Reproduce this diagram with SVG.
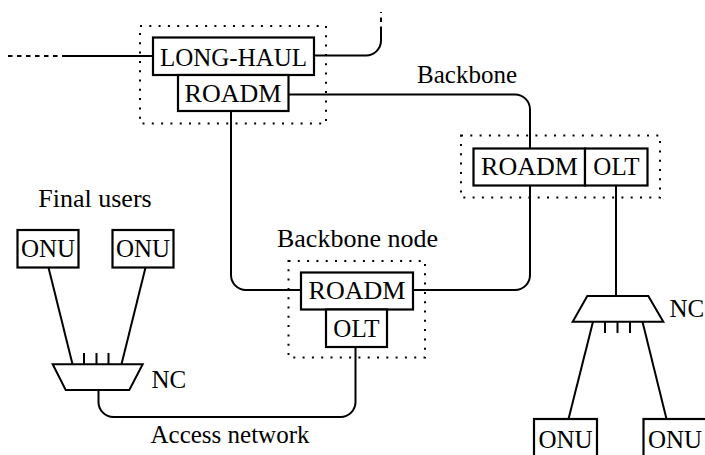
<svg xmlns="http://www.w3.org/2000/svg" width="705" height="455" viewBox="0 0 705 455">
<style>
.box{fill:#fff;stroke:#000;stroke-width:2.2}
.grp{fill:none;stroke:#000;stroke-width:2;stroke-dasharray:2 7.3}
.ln{fill:none;stroke:#000;stroke-width:2}
.dash{fill:none;stroke:#000;stroke-width:2;stroke-dasharray:4.5 4.5}
.nc{fill:#fff;stroke:#000;stroke-width:2;stroke-linejoin:miter}
text{font-family:'Liberation Serif',serif;font-size:25px;fill:#000}
.c{text-anchor:middle}
.w{font-size:26px}
</style>
<rect width="705" height="455" fill="#fff"/>
<g id="groups">
<rect class="grp" x="140" y="26" width="186" height="97.5"/>
<rect class="grp" x="461" y="135.5" width="199" height="62"/>
<rect class="grp" x="288.5" y="261" width="136.5" height="96.5"/>
</g>
<g id="connectors">
<path class="dash" d="M8,56 H65"/>
<path class="ln" d="M65,56 H153"/>
<path class="ln" d="M314,55.5 H366 A15,15 0 0 0 381,40.5 V31"/>
<path class="dash" d="M381,31 V12"/>
<path class="ln" d="M288,94.5 H515 A15,15 0 0 1 530,109.5 V148"/>
<path class="ln" d="M231,111 V275 A15,15 0 0 0 246,290 H301"/>
<path class="ln" d="M413,290 H515 A15,15 0 0 0 530,275 V185"/>
<path class="ln" d="M616,185 V296"/>
<path class="ln" d="M355.5,347 V402 A15,15 0 0 1 340.5,417 H113.5 A15,15 0 0 1 98.5,402 V390"/>
<path class="ln" d="M48.5,267.5 L72.5,364.3"/>
<path class="ln" d="M145.5,267.5 L121.5,364.3"/>
<path class="ln" d="M593,321.7 L568.5,419"/>
<path class="ln" d="M642.5,321.7 L666.5,419"/>
</g>
<g id="longhaul">
<rect class="box" x="153" y="37.5" width="161" height="37.5"/>
<text class="c" x="233.5" y="65.5">LONG-HAUL</text>
</g>
<g id="roadm-top">
<rect class="box" x="178" y="75" width="110.5" height="36"/>
<text class="c w" x="233" y="101.5">ROADM</text>
</g>
<g id="roadm-right">
<rect class="box" x="473.5" y="148.5" width="111.5" height="37"/>
<text class="c w" x="529.5" y="175">ROADM</text>
</g>
<g id="olt-right">
<rect class="box" x="585" y="148.5" width="62.5" height="37"/>
<text class="c" x="616.5" y="175">OLT</text>
</g>
<g id="roadm-mid">
<rect class="box" x="301" y="272.5" width="112" height="37"/>
<text class="c w" x="357" y="299">ROADM</text>
</g>
<g id="olt-mid">
<rect class="box" x="326" y="309.5" width="61" height="37.5"/>
<text class="c" x="356.5" y="336.5">OLT</text>
</g>
<g id="onu-1">
<rect class="box" x="17.5" y="230" width="61" height="37.5"/>
<text class="c" x="48" y="257">ONU</text>
</g>
<g id="onu-2">
<rect class="box" x="112.5" y="230" width="61" height="37.5"/>
<text class="c" x="143" y="257">ONU</text>
</g>
<g id="onu-3">
<rect class="box" x="534" y="419" width="63" height="42"/>
<text class="c" x="565.5" y="448">ONU</text>
</g>
<g id="onu-4">
<rect class="box" x="643.5" y="419" width="63" height="42"/>
<text class="c" x="675" y="448">ONU</text>
</g>
<g id="nc-left">
<path class="ln" d="M84,353 V364.3 M96.5,353 V364.3 M108.5,353 V364.3"/>
<polygon class="nc" points="52.7,364.3 142.7,364.3 129.3,390 65.7,390"/>
<text x="151.5" y="388">NC</text>
</g>
<g id="nc-right">
<polygon class="nc" points="587.3,296 648.3,296 663.3,321.7 572.7,321.7"/>
<path class="ln" d="M605,321.7 V333 M617.5,321.7 V333 M630,321.7 V333"/>
<text x="669.5" y="316.7">NC</text>
</g>
<g id="labels">
<text class="c w" x="95" y="207">Final users</text>
<text class="c w" x="357.5" y="246.5">Backbone node</text>
<text class="c" x="467" y="83">Backbone</text>
<text class="c" x="230" y="442.5">Access network</text>
</g>
</svg>
